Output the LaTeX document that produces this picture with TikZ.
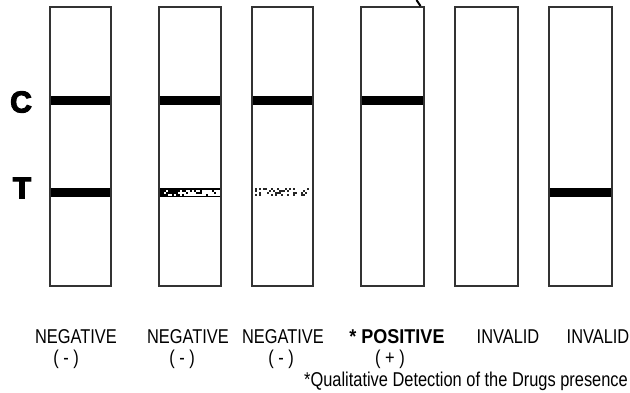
\documentclass[tikz,border=0pt]{standalone}
\usepackage{fontspec}
\setmainfont{Liberation Sans}[FakeStretch=0.82]
\newfontfamily\heavyfont{Liberation Sans}[FakeBold=4]
\newfontfamily\posfont{Liberation Sans}[FakeStretch=0.9]
\begin{document}
\begin{tikzpicture}[x=1pt,y=-1pt,
  strip/.style={draw=black!80,line width=1.6pt,fill=none,minimum width=61pt,minimum height=279pt,inner sep=0pt,outer sep=0pt},
  lbl/.style={font=\fontsize{20}{24}\selectfont,inner sep=0pt,anchor=base},
  ct/.style={font=\heavyfont\bfseries\fontsize{30}{34}\selectfont,inner sep=0pt},
  band/.style={fill=black}]
\useasboundingbox (0,0) rectangle (630,392);
% bands
\fill[band] (50,95.5) rectangle (111,104.5);
\fill[band] (50,187.5) rectangle (111,196.5);
\fill[band] (159,95.5) rectangle (221,104.5);
\fill[band] (252,95.5) rectangle (313,104.5);
\fill[band] (361,95.5) rectangle (424,104.5);
\fill[band] (549,187.5) rectangle (612,196.5);
% faint test line strip 2
\fill[band] (159,187.5) rectangle (221,196.5);
\pgfmathsetseed{11}
\foreach \i in {0,...,28}{
  \foreach \j in {0,...,2}{
    \pgfmathsetmacro\pr{0.25+0.6*\i/28}
    \pgfmathtruncatemacro\on{rnd<\pr}
    \ifnum\on=1 \fill[white] ({162+2*\i},{189.5+2*\j}) rectangle ++(2,2); \fi
  }
}
% speckled test line strip 3
\foreach \i in {0,...,29}{
  \foreach \j in {0,...,3}{
    \pgfmathtruncatemacro\on{rnd<0.3}
    \ifnum\on=1 \fill[black!85] ({253+2*\i},{188+2*\j}) rectangle ++(1.6,1.6); \fi
  }
}
% strips
\node[strip] (s1) at (80.5,146.5) {};
\node[strip,minimum width=62pt] (s2) at (190,146.5) {};
\node[strip] (s3) at (282.5,146.5) {};
\node[strip,minimum width=63pt] (s4) at (392.5,146.5) {};
\node[strip,minimum width=63pt] (s5) at (486.5,146.5) {};
\node[strip,minimum width=63pt] (s6) at (580.5,146.5) {};
% fragment at top
\draw[line width=2pt] (416.5,0) -- (420.5,6);
% C and T
\node[ct] (c) at (21,102) {C};
\node[ct] (t) at (22,188) {T};
% labels
\node[lbl] (l1) at (76,343) {NEGATIVE};
\node[lbl] (l2) at (188,343) {NEGATIVE};
\node[lbl] (l3) at (283,343) {NEGATIVE};
\node[lbl,font=\posfont\bfseries\fontsize{20}{24}\selectfont] (l4) at (397,343) {* POSITIVE};
\node[lbl] (l5) at (508,343) {INVALID};
\node[lbl] (l6) at (598,343) {INVALID};
\node[lbl] (p1) at (66,364) {( - )};
\node[lbl] (p2) at (182,364) {( - )};
\node[lbl] (p3) at (281,364) {( - )};
\node[lbl] (p4) at (390,364) {( + )};
\node[lbl,anchor=base east] (q) at (628,386) {*Qualitative Detection of the Drugs presence};
\end{tikzpicture}
\end{document}
